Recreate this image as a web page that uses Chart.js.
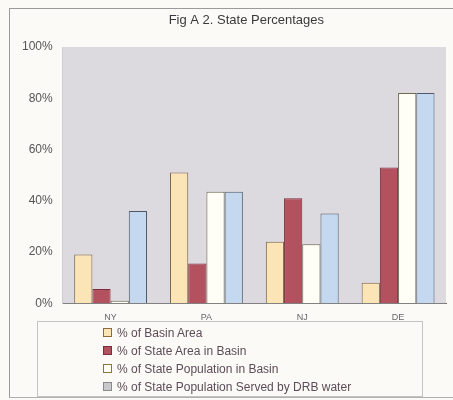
<!DOCTYPE html>
<html>
<head>
<meta charset="utf-8">
<script src="https://cdn.jsdelivr.net/npm/chart.js@4/dist/chart.umd.min.js"></script>
<style>
  html, body { margin: 0; padding: 0; background: #fbfaf7; }
  #wrap { position: relative; width: 453px; height: 400px; overflow: hidden; background: #fbfaf7; }
  #frame { position: absolute; left: 9px; top: 8px; width: 460px; height: 390px; border-left: 1px solid #9a9a9a; border-top: 1px solid #9a9a9a; border-bottom: 1px solid #b0b0b0; box-sizing: border-box; }
  canvas { position: absolute; left: 0; top: 0; }
  #legend { position: absolute; left: 37px; top: 321px; width: 386px; height: 76px; border: 1px solid #c4c2c2; box-sizing: border-box; font-family: "Liberation Sans", Arial, sans-serif; font-size: 12px; color: #5d4c58; }
  .item { position: absolute; left: 65px; height: 14px; line-height: 14px; white-space: nowrap; }
  .sw { display: inline-block; width: 7px; height: 7px; border: 1px solid #555; margin-right: 5px; vertical-align: 0px; }
</style>
</head>
<body>
<div id="wrap">
  <div id="frame"></div>
  <canvas id="c" width="453" height="400"></canvas>
  <div id="legend"></div>
</div>
<script>
const titleText = "Fig A 2. State Percentages";
const states = ["NY", "PA", "NJ", "DE"];
const yTicks = [0, 20, 40, 60, 80, 100];
const basinArea = [19, 51, 24, 8];
const stateAreaInBasin = [5.5, 15.5, 41, 53];
const statePopInBasin = [1, 43.5, 23, 82];
const statePopServed = [36, 43.5, 35, 82];
const seriesLabels = [
  "% of Basin Area",
  "% of State Area in Basin",
  "% of State Population in Basin",
  "% of State Population Served by DRB water"
];
const fills = ["#fbe4b6", "#b4515f", "#fffef6", "#c4d9f0"];
const borders = ["#7d6648", "#7a2e3c", "#6a6a50", "#4f5868"];
const swatchFills = ["#fbe4b6", "#b4515f", "#fffef6", "#c9c9cc"];
const swatchBorders = ["#8c6a3c", "#7a2e3c", "#8a7a3a", "#8a8a8a"];

const plotBg = {
  id: "plotBg",
  beforeDatasetsDraw(chart) {
    const a = chart.chartArea, ctx = chart.ctx;
    ctx.save();
    ctx.fillStyle = "#dcd9df";
    ctx.fillRect(a.left, a.top, a.right - a.left, a.bottom - a.top);
    ctx.restore();
  },
  afterDraw(chart) {
    const a = chart.chartArea, ctx = chart.ctx;
    ctx.save();
    ctx.font = "13px 'Liberation Sans', Arial, sans-serif";
    ctx.fillStyle = "#3a3a3a";
    ctx.textAlign = "center";
    ctx.textBaseline = "middle";
    ctx.fillText(titleText, (a.left + a.right) / 2 - 8, 20);
    ctx.restore();
  }
};

const values = [basinArea, stateAreaInBasin, statePopInBasin, statePopServed];
new Chart(document.getElementById("c"), {
  type: "bar",
  data: {
    labels: states,
    datasets: values.map((v, i) => ({
      label: seriesLabels[i],
      data: v,
      backgroundColor: fills[i],
      borderColor: borders[i],
      borderWidth: 1,
      categoryPercentage: 0.76,
      barPercentage: 1.0
    }))
  },
  options: {
    responsive: false,
    animation: false,
    layout: { padding: { left: 20, right: 7, top: 47, bottom: 76 } },
    plugins: { legend: { display: false }, title: { display: false }, tooltip: { enabled: false } },
    scales: {
      x: {
        grid: { display: false },
        border: { display: true, color: "#6a6a6a", width: 1 },
        ticks: { color: "#666", font: { family: "'Liberation Sans', Arial, sans-serif", size: 9 }, padding: 1 }
      },
      y: {
        min: 0, max: 100,
        afterBuildTicks(axis) { axis.ticks = yTicks.map(v => ({ value: v })); },
        grid: { display: false },
        border: { display: true, color: "#c8c6cc", width: 1 },
        ticks: {
          color: "#555",
          font: { family: "'Liberation Sans', Arial, sans-serif", size: 12 },
          padding: 2,
          callback: v => v + "%"
        }
      }
    }
  },
  plugins: [plotBg]
});

const leg = document.getElementById("legend");
seriesLabels.forEach((t, i) => {
  const d = document.createElement("div");
  d.className = "item";
  d.style.top = (4 + i * 18) + "px";
  const s = document.createElement("span");
  s.className = "sw";
  s.style.background = swatchFills[i];
  s.style.borderColor = swatchBorders[i];
  d.appendChild(s);
  d.appendChild(document.createTextNode(t));
  leg.appendChild(d);
});
</script>
</body>
</html>
